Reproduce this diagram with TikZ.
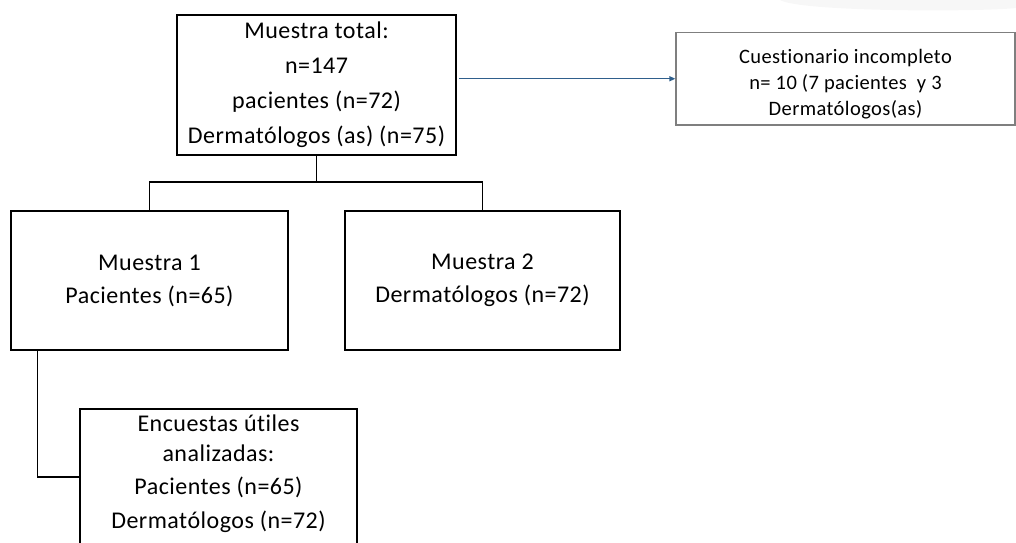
\documentclass[tikz,border=0pt]{standalone}
\usepackage{fontspec}
\setmainfont{Carlito}[Ligatures=NoCommon,LetterSpace=2]
\usetikzlibrary{arrows.meta}
\definecolor{arrblue}{HTML}{2F5F8C}
\definecolor{boxgray}{HTML}{7F7F7F}
\begin{document}
\begin{tikzpicture}[x=1pt,y=-1pt,
  box/.style={draw=black,line width=1.6pt,inner sep=0pt,align=center},
  conn/.style={draw=black,line width=1.4pt},
  txt/.style={align=center,inner sep=0pt},
  arr/.style={draw=arrblue,line width=1.3pt,-{Triangle[length=6pt,width=5pt]}}]
\useasboundingbox (0,0) rectangle (1016,542);
\fill[gray!6] (780,0) .. controls (800,12) and (980,12) .. (1016,8) -- (1016,0) -- cycle;
\node[box,minimum width=279,minimum height=140,font=\fontsize{24}{35}\selectfont] (main) at (316.5,85)
  {Muestra total:\\n=147\\pacientes (n=72)\\Dermatólogos (as) (n=75)};
\node[box,draw=boxgray,line width=1.2pt,minimum width=339,minimum height=92.5] (cq) at (845.5,78.75) {};
\node[txt,font=\fontsize{20.5}{26}\selectfont] (cqtxt) at (845.5,84)
  {Cuestionario incompleto\\n= 10 (7 pacientes \ y 3\\Dermatólogos(as)};
\node[box,minimum width=277,minimum height=139,font=\fontsize{24}{33}\selectfont] (m1) at (149.5,280.5)
  {Muestra 1\\Pacientes (n=65)};
\node[box,minimum width=275,minimum height=139,font=\fontsize{24}{33}\selectfont] (m2) at (482.5,280.5)
  {Muestra 2\\Dermatólogos (n=72)};
\node[box,minimum width=277,minimum height=152,anchor=north] (enc) at (218.5,408) {};
\node[txt,font=\fontsize{24}{30}\selectfont] (enctxt) at (218.5,474)
  {Encuestas útiles\\analizadas:\\[3pt]Pacientes (n=65)\\[4pt]Dermatólogos (n=72)};
\coordinate (j) at (316.5,182);
\draw[conn] (main.south) -- (j);
\draw[conn] (m1.north) |- (j) -| (m2.north);
\draw[conn] ([xshift=27pt]m1.south west) |- ([yshift=-69pt]enc.north west);
\draw[arr] ([xshift=2pt]main.east |- cq.west) -- (cq.west);
\end{tikzpicture}
\end{document}
